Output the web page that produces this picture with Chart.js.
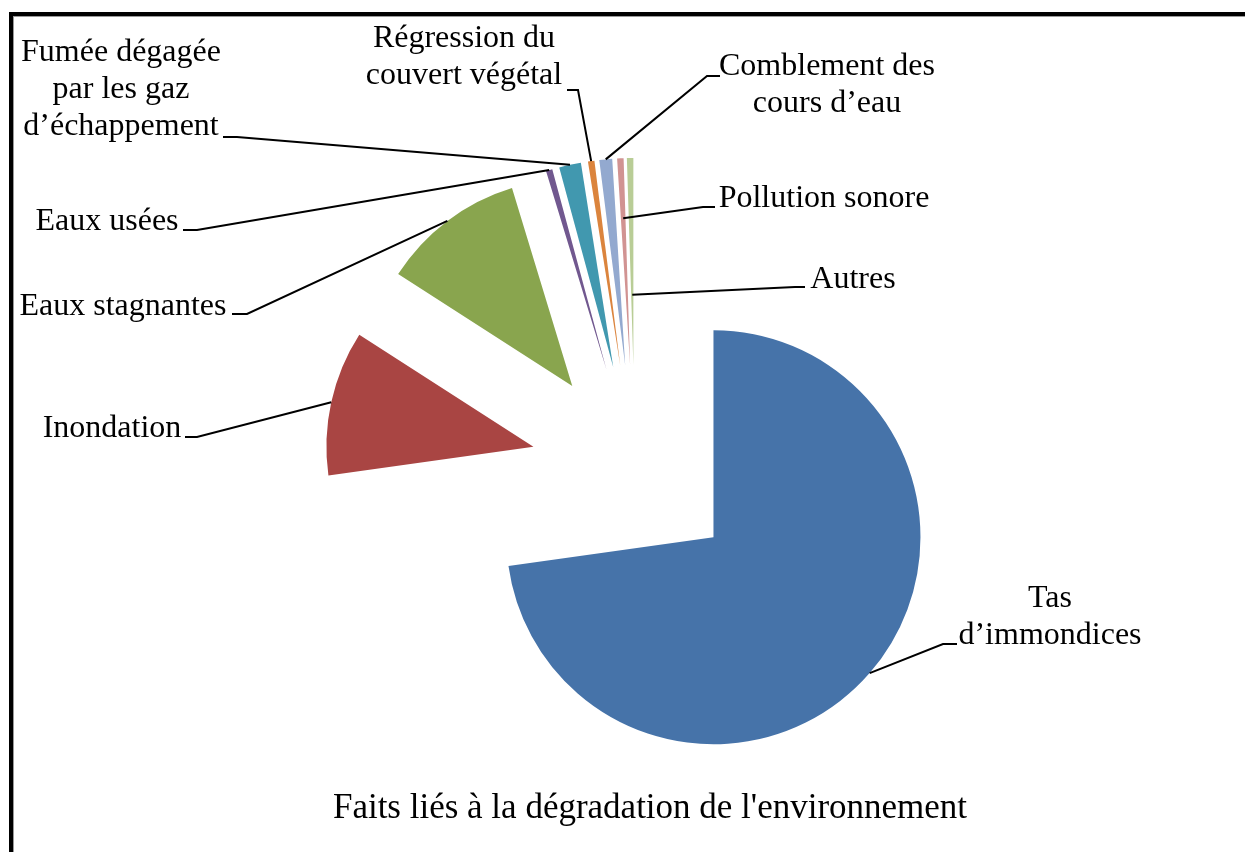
<!DOCTYPE html>
<html>
<head>
<meta charset="utf-8">
<script src="https://cdn.jsdelivr.net/npm/chart.js@4.4.1/dist/chart.umd.min.js"></script>
<style>
html,body{margin:0;padding:0;background:#fff;}
#wrap{position:relative;width:1245px;height:852px;overflow:hidden;}
#frame{position:absolute;left:9px;top:12px;width:1300px;height:900px;border-top:4px solid #000;border-left:4px solid #000;box-shadow:1px 1px 0 #999 inset;}
canvas{position:absolute;left:0;top:0;}
</style>
</head>
<body>
<div id="wrap"><div id="frame"></div><canvas id="c" width="1245" height="852"></canvas></div>
<script>
// ---- data ----
const categories = [
  "Tas d’immondices",
  "Inondation",
  "Eaux stagnantes",
  "Eaux usées",
  "Fumée dégagée par les gaz d’échappement",
  "Régression du couvert végétal",
  "Comblement des cours d’eau",
  "Pollution sonore",
  "Autres"
];
const values = [72.75, 11.3, 11.2, 0.5, 1.7, 0.5, 1.0, 0.5, 0.5];
const labelLines = [
  ["Tas", "d’immondices"],
  ["Inondation"],
  ["Eaux stagnantes"],
  ["Eaux usées"],
  ["Fumée dégagée", "par les gaz", "d’échappement"],
  ["Régression du", "couvert végétal"],
  ["Comblement des", "cours d’eau"],
  ["Pollution sonore"],
  ["Autres"]
];
const chartTitle = "Faits liés à la dégradation de l'environnement";

// ---- styles / layout ----
const colors = ["#4673A9", "#A94543", "#89A54E", "#71588F", "#4198AF", "#DB843D", "#93A9CF", "#D19392", "#B9CD96"];
const EXPLODE = 104;
const RADIUS = 207;
const LABEL_FONT = '32px "Liberation Serif", "Times New Roman", serif';
const TITLE_FONT = '35px "Liberation Serif", "Times New Roman", serif';
const LINE_H = 37;
// label text centre x, first baseline y, leader start, elbow, and where along the radius the leader meets the slice
const labelLayout = [
  {cx:1050, base:607, sx:957, sy:644, ex:943, ey:644, rf:1},
  {cx:112,  base:437, sx:185, sy:437, ex:197, ey:437, rf:1},
  {cx:123,  base:315, sx:232, sy:314, ex:247, ey:314, rf:1},
  {cx:107,  base:230, sx:183, sy:230, ex:197, ey:230, rf:1},
  {cx:121,  base:61,  sx:223, sy:137, ex:237, ey:137, rf:1},
  {cx:464,  base:47,  sx:567, sy:90,  ex:578, ey:90,  rf:1},
  {cx:827,  base:75,  sx:720, sy:76,  ex:707, ey:76,  rf:1},
  {cx:824,  base:207, sx:715, sy:207, ex:703, ey:207, rf:0.71},
  {cx:853,  base:288, sx:805, sy:287, ex:795, ey:287, rf:0.34}
];

const explodePlugin = {
  id: 'explode',
  afterDatasetUpdate(chart, args) {
    args.meta.data.forEach(arc => {
      const mid = (arc.startAngle + arc.endAngle) / 2;
      arc.x += Math.cos(mid) * EXPLODE;
      arc.y += Math.sin(mid) * EXPLODE;
    });
  }
};

const labelPlugin = {
  id: 'labels',
  afterDraw(chart) {
    const ctx = chart.ctx;
    const arcs = chart.getDatasetMeta(0).data;
    ctx.save();
    ctx.fillStyle = '#000';
    ctx.strokeStyle = '#000';
    ctx.lineWidth = 2;
    ctx.textAlign = 'center';
    ctx.textBaseline = 'alphabetic';
    ctx.font = LABEL_FONT;
    labelLayout.forEach((L, i) => {
      labelLines[i].forEach((t, k) => ctx.fillText(t, L.cx, L.base + k * LINE_H));
      const arc = arcs[i];
      const mid = (arc.startAngle + arc.endAngle) / 2;
      const r = arc.outerRadius * L.rf;
      const px = arc.x + Math.cos(mid) * r;
      const py = arc.y + Math.sin(mid) * r;
      ctx.beginPath();
      ctx.moveTo(L.sx, L.sy);
      ctx.lineTo(L.ex, L.ey);
      ctx.lineTo(px, py);
      ctx.stroke();
    });
    ctx.font = TITLE_FONT;
    ctx.fillText(chartTitle, 650, 818);
    ctx.restore();
  }
};

new Chart(document.getElementById('c'), {
  type: 'pie',
  data: {
    labels: categories,
    datasets: [{
      data: values,
      backgroundColor: colors,
      borderWidth: 0
    }]
  },
  options: {
    responsive: false,
    animation: false,
    events: [],
    radius: RADIUS,
    layout: { padding: { left: 25, right: 0, top: 86, bottom: 0 } },
    plugins: {
      legend: { display: false },
      title: { display: false },
      tooltip: { enabled: false }
    }
  },
  plugins: [explodePlugin, labelPlugin]
});
</script>
</body>
</html>
